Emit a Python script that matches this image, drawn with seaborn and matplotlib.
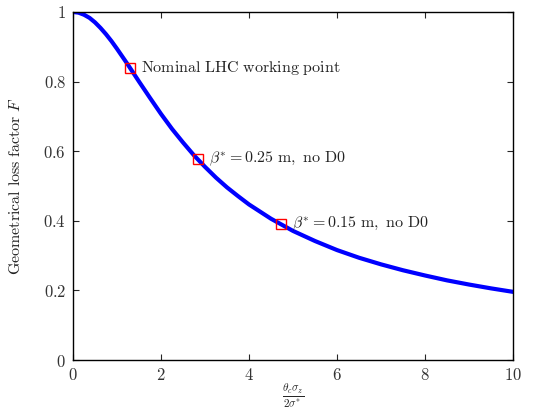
import matplotlib
matplotlib.use("Agg")
import matplotlib.pyplot as plt
import seaborn as sns
import pandas as pd
from matplotlib.ticker import FixedLocator, FixedFormatter

# curve
x_vals = [0, 0.125, 0.25, 0.375, 0.5, 0.625, 0.75, 0.875, 1.0, 1.25, 1.5, 1.75, 2.0,
          2.25, 2.5, 2.75, 3.0, 3.25, 3.5, 3.75, 4.0, 4.5, 5.0, 5.5, 6.0, 6.5, 7.0,
          7.5, 8.0, 8.5, 9.0, 9.5, 10.0]
f_vals = [1.0, 0.998, 0.992, 0.983, 0.970, 0.954, 0.936, 0.916, 0.894, 0.848, 0.800,
          0.753, 0.707, 0.664, 0.625, 0.588, 0.555, 0.524, 0.496, 0.471, 0.447, 0.406,
          0.371, 0.342, 0.316, 0.294, 0.275, 0.258, 0.243, 0.229, 0.217, 0.206, 0.196]

# working points
pt_x = [1.29, 2.83, 4.72]
pt_f = [0.839, 0.577, 0.390]
pt_labels = [r"$\mathrm{Nominal\ LHC\ working\ point}$",
             r"$\beta^{*} = 0.25\ \mathrm{m,\ no\ D0}$",
             r"$\beta^{*} = 0.15\ \mathrm{m,\ no\ D0}$"]

x_ticks = [0, 2, 4, 6, 8, 10]
y_ticks = [0, 0.2, 0.4, 0.6, 0.8, 1]
y_tick_labels = ["$0$", "$0.2$", "$0.4$", "$0.6$", "$0.8$", "$1$"]

sns.set_style("ticks")
plt.rcParams["mathtext.fontset"] = "cm"
plt.rcParams["font.family"] = ["DejaVu Serif"]

df = pd.DataFrame({"x": x_vals, "F": f_vals})
pts = pd.DataFrame({"x": pt_x, "F": pt_f})

fig = plt.figure(figsize=(5.33, 4.12), dpi=100)
ax = fig.add_axes([0.137, 0.126, 0.8255, 0.845])

sns.lineplot(data=df, x="x", y="F", color="#0000ff", linewidth=3, ax=ax)
ax.plot(pts["x"], pts["F"], linestyle="none", marker="s", markersize=7,
        markerfacecolor="none", markeredgecolor="red", markeredgewidth=1)

for px, pf, lab in zip(pt_x, pt_f, pt_labels):
    ax.text(px + 0.25, pf, lab, fontsize=11.5, va="center", ha="left", color="#222222")

ax.set_xlim(0, 10)
ax.set_ylim(0, 1)
ax.xaxis.set_major_locator(FixedLocator(x_ticks))
ax.xaxis.set_major_formatter(FixedFormatter([f"${t}$" for t in x_ticks]))
ax.yaxis.set_major_locator(FixedLocator(y_ticks))
ax.yaxis.set_major_formatter(FixedFormatter(y_tick_labels))
ax.tick_params(direction="in", top=True, right=True, length=4, width=0.8,
               labelsize=12, pad=5, labelcolor="#333333")
for s in ax.spines.values():
    s.set_linewidth(1)
    s.set_color("black")

ax.set_xlabel(r"$\frac{\theta_c\sigma_z}{2\sigma^{*}}$", fontsize=11.5, va="center")
ax.xaxis.set_label_coords(0.5, -0.105)
ax.set_ylabel(r"$\mathrm{Geometrical\ loss\ factor}\ F$", fontsize=11.5, labelpad=14,
              color="#222222")

fig.savefig("out.png", dpi=100)
